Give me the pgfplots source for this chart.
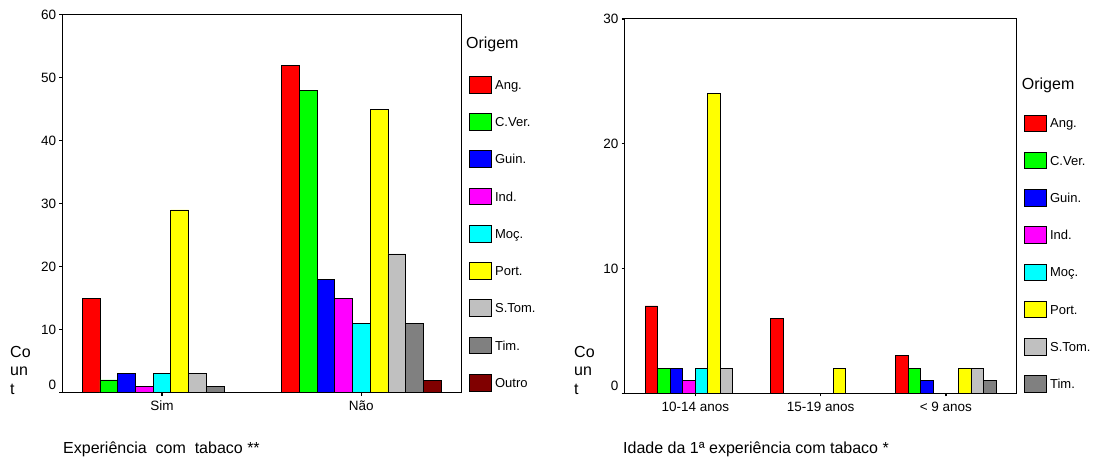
\documentclass[border=0pt]{standalone}
\usepackage{pgfplots}
\pgfplotsset{compat=1.18}
\usepackage{fontspec}
\setmainfont{Liberation Sans}
\definecolor{angc}{RGB}{255,0,0}
\definecolor{cverc}{RGB}{0,255,0}
\definecolor{guinc}{RGB}{0,0,255}
\definecolor{indc}{RGB}{255,0,255}
\definecolor{mocc}{RGB}{0,255,255}
\definecolor{portc}{RGB}{255,255,0}
\definecolor{stomc}{RGB}{192,192,192}
\definecolor{timc}{RGB}{128,128,128}
\definecolor{outroc}{RGB}{128,0,0}
\pgfplotsset{
  spssbar/.style={
    scale only axis,
    ybar=0pt,
    ymin=0,
    tick pos=left,
    tick align=outside,
    major tick length=3pt,
    tick style={black, line width=1.3pt},
    axis line style={black, line width=1pt},
    ticklabel style={font=\fontsize{13.5}{16}\selectfont},
    xticklabel style={anchor=base, inner sep=0pt},
    yticklabel style={anchor=east, inner sep=0pt, xshift=-3pt},
    legend image code/.code={\draw[##1,draw=black,line width=0.8pt] (0pt,-3.7pt) rectangle (22.4pt,13pt);},
    legend style={draw=none, fill=none, inner sep=0pt, outer sep=0pt,
      row sep=19.75pt, column sep=3pt, nodes={inner sep=0pt},
      cells={anchor=base west},
      font=\fontsize{13}{15}\selectfont,
      at={(1,0)}, anchor=south west},
  },
  every axis plot/.append style={draw=black, line width=0.8pt},
}
\begin{document}
\begin{tikzpicture}
\useasboundingbox (0pt,0pt) rectangle (1098pt,464pt);
% ---------------- left chart ----------------
\begin{axis}[spssbar,
  at={(62.3pt,71.5pt)}, anchor=south west,
  width=398.7pt, height=377.8pt,
  bar width=0.088889,
  xmin=-0.5, xmax=1.5, ymax=60,
  xtick={0,1}, xticklabels={Sim,Não},
  xticklabel style={yshift=-15pt},
  ytick={0,10,20,30,40,50,60},
  yticklabels={\raisebox{7.5pt}[\height][\depth]{0},10,20,30,40,50,60},
  legend style={xshift=7.9pt, yshift=1.05pt},
]
\addplot[fill=angc] coordinates {(0,15) (1,52)};
\addplot[fill=cverc] coordinates {(0,2) (1,48)};
\addplot[fill=guinc] coordinates {(0,3) (1,18)};
\addplot[fill=indc] coordinates {(0,1) (1,15)};
\addplot[fill=mocc] coordinates {(0,3) (1,11)};
\addplot[fill=portc] coordinates {(0,29) (1,45)};
\addplot[fill=stomc] coordinates {(0,3) (1,22)};
\addplot[fill=timc] coordinates {(0,1) (1,11)};
\addplot[fill=outroc] coordinates {(1,2)};
\legend{Ang.,C.Ver.,Guin.,Ind.,Moç.,Port.,S.Tom.,Tim.,Outro}
\end{axis}
% ---------------- right chart ----------------
\begin{axis}[spssbar,
  at={(624.5pt,70.7pt)}, anchor=south west,
  width=391.5pt, height=374.3pt,
  bar width=0.1,
  xmin=-0.565, xmax=2.56, ymax=30,
  xtick={0,1,2}, xticklabels={10-14 anos,15-19 anos,< 9 anos},
  xticklabel style={yshift=-15pt},
  ytick={0,10,20,30},
  yticklabels={\raisebox{7.5pt}[\height][\depth]{0},10,20,30},
  legend style={xshift=7.9pt, yshift=0.55pt},
]
\addplot[fill=angc] coordinates {(0,7) (1,6) (2,3)};
\addplot[fill=cverc] coordinates {(0,2) (2,2)};
\addplot[fill=guinc] coordinates {(0,2) (2,1)};
\addplot[fill=indc] coordinates {(0,1)};
\addplot[fill=mocc] coordinates {(0,2)};
\addplot[fill=portc] coordinates {(0,24) (1,2) (2,2)};
\addplot[fill=stomc] coordinates {(0,2) (2,2)};
\addplot[fill=timc] coordinates {(2,1)};
\legend{Ang.,C.Ver.,Guin.,Ind.,Moç.,Port.,S.Tom.,Tim.}
\end{axis}
% ---------------- texts ----------------
\begin{scope}[every node/.style={inner sep=0pt, anchor=base west}]
\node[font=\fontsize{16}{19}\selectfont] at (465.9pt,415pt) {Origem};
\node[font=\fontsize{16}{19}\selectfont] at (1021.7pt,374.7pt) {Origem};
\node[font=\fontsize{16}{19}\selectfont] at (10pt,107pt) {Co};
\node[font=\fontsize{16}{19}\selectfont] at (10pt,88.5pt) {un};
\node[font=\fontsize{16}{19}\selectfont] at (10pt,70pt) {t};
\node[font=\fontsize{16}{19}\selectfont] at (574pt,107pt) {Co};
\node[font=\fontsize{16}{19}\selectfont] at (574pt,88.5pt) {un};
\node[font=\fontsize{16}{19}\selectfont] at (574pt,70pt) {t};
\node[font=\fontsize{16}{19}\selectfont] at (63pt,10.5pt) {Experiência~~com~~tabaco **};
\node[font=\fontsize{16}{19}\selectfont] at (623pt,10.5pt) {Idade da 1ª experiência com tabaco *};
\end{scope}
\end{tikzpicture}
\end{document}
